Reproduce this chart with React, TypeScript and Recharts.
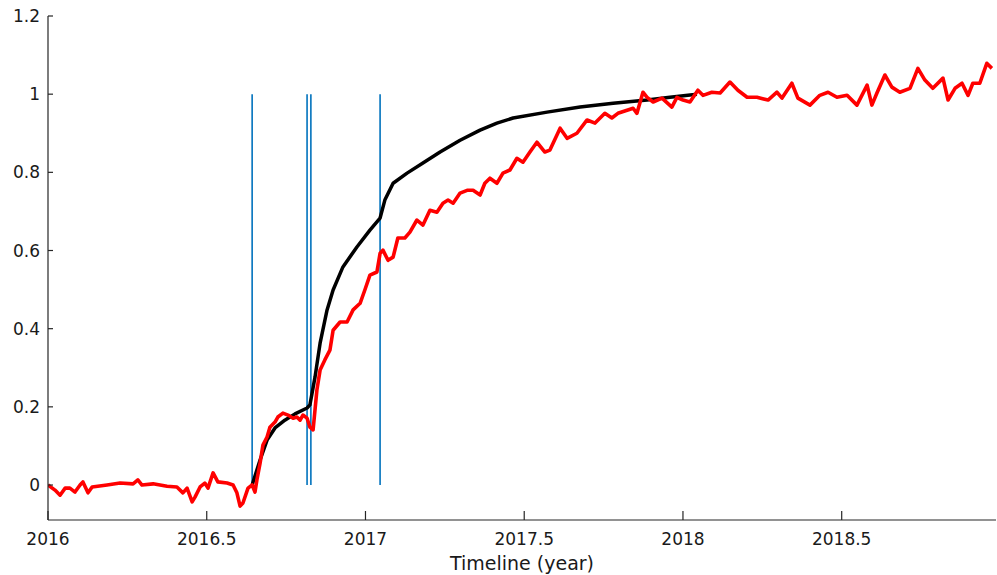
import React from 'react';
import { LineChart, Line, XAxis, YAxis, ReferenceLine } from 'recharts';

// ---- data ----
const xTicks = [2016, 2016.5, 2017, 2017.5, 2018, 2018.5];
const yTicks = [0, 0.2, 0.4, 0.6, 0.8, 1, 1.2];
const xDomain = [2016, 2018.986];
const yDomain = [-0.0895, 1.2];

// event markers (vertical lines from 0 to 1)
const eventYears = [2016.643, 2016.816, 2016.828, 2017.046];

// model curve (black)
const modelYears = [
  2016.643, 2016.668, 2016.69, 2016.715, 2016.746, 2016.778, 2016.816, 2016.825, 2016.841,
  2016.857, 2016.879, 2016.898, 2016.929, 2016.973, 2017.014, 2017.046, 2017.061, 2017.087,
  2017.131, 2017.181, 2017.235, 2017.298, 2017.361, 2017.414, 2017.465, 2017.572, 2017.676,
  2017.78, 2017.887, 2017.959, 2018.044,
];
const modelValues = [
  0, 0.064, 0.115, 0.146, 0.166, 0.182, 0.197, 0.205, 0.276,
  0.363, 0.448, 0.499, 0.558, 0.609, 0.652, 0.683, 0.729, 0.772,
  0.798, 0.824, 0.852, 0.882, 0.908, 0.926, 0.939, 0.954, 0.967,
  0.977, 0.985, 0.992, 1.0,
];

// observed series (red)
const obsYears = [
  2016.0, 2016.022, 2016.038, 2016.054, 2016.069, 2016.085, 2016.101, 2016.11, 2016.126, 2016.139,
  2016.186, 2016.227, 2016.268, 2016.283, 2016.296, 2016.331, 2016.375, 2016.406, 2016.425, 2016.438,
  2016.454, 2016.463, 2016.479, 2016.494, 2016.504, 2016.52, 2016.535, 2016.564, 2016.583, 2016.595,
  2016.605, 2016.614, 2016.63, 2016.643, 2016.652, 2016.658, 2016.668, 2016.677, 2016.69, 2016.699,
  2016.715, 2016.724, 2016.74, 2016.756, 2016.772, 2016.784, 2016.794, 2016.803, 2016.816, 2016.825,
  2016.835, 2016.847, 2016.857, 2016.872, 2016.888, 2016.898, 2016.92, 2016.942, 2016.961, 2016.983,
  2016.998, 2017.014, 2017.036, 2017.046, 2017.055, 2017.071, 2017.087, 2017.102, 2017.124, 2017.14,
  2017.162, 2017.181, 2017.203, 2017.225, 2017.244, 2017.26, 2017.276, 2017.298, 2017.32, 2017.339,
  2017.361, 2017.376, 2017.392, 2017.414, 2017.433, 2017.455, 2017.477, 2017.496, 2017.518, 2017.54,
  2017.565, 2017.581, 2017.613, 2017.635, 2017.666, 2017.698, 2017.723, 2017.754, 2017.776, 2017.795,
  2017.824, 2017.843, 2017.855, 2017.874, 2017.887, 2017.906, 2017.934, 2017.965, 2017.981, 2018.0,
  2018.022, 2018.047, 2018.063, 2018.091, 2018.117, 2018.148, 2018.173, 2018.202, 2018.233, 2018.268,
  2018.296, 2018.312, 2018.343, 2018.362, 2018.4, 2018.431, 2018.457, 2018.485, 2018.517, 2018.548,
  2018.58, 2018.595, 2018.611, 2018.636, 2018.658, 2018.683, 2018.715, 2018.74, 2018.762, 2018.787,
  2018.819, 2018.835, 2018.857, 2018.879, 2018.898, 2018.913, 2018.935, 2018.957, 2018.973,
];
const obsValues = [
  0, -0.013, -0.026, -0.008, -0.008, -0.018, 0, 0.008, -0.02, -0.005,
  0, 0.005, 0.003, 0.013, 0, 0.003, -0.003, -0.005, -0.02, -0.008,
  -0.043, -0.031, -0.005, 0.005, -0.008, 0.031, 0.008, 0.005, 0, -0.02,
  -0.054, -0.046, -0.008, 0, -0.018, 0.013, 0.056, 0.102, 0.123, 0.148,
  0.161, 0.174, 0.184, 0.179, 0.171, 0.174, 0.166, 0.179, 0.171, 0.148,
  0.141, 0.243, 0.294, 0.32, 0.345, 0.396, 0.417, 0.417, 0.448, 0.465,
  0.499, 0.537, 0.545, 0.593, 0.601, 0.575, 0.583, 0.632, 0.632, 0.647,
  0.678, 0.665, 0.703, 0.698, 0.721, 0.729, 0.721, 0.747, 0.754, 0.754,
  0.742, 0.772, 0.785, 0.772, 0.798, 0.806, 0.836, 0.826, 0.852, 0.877,
  0.852, 0.857, 0.913, 0.887, 0.9, 0.934, 0.926, 0.951, 0.939, 0.951,
  0.959, 0.964, 0.951, 1.005, 0.992, 0.98, 0.99, 0.967, 0.992, 0.985,
  0.98, 1.01, 0.997, 1.005, 1.003, 1.031, 1.01, 0.992, 0.992, 0.985,
  1.005, 0.99, 1.028, 0.99, 0.972, 0.997, 1.005, 0.992, 0.997, 0.972,
  1.023, 0.972, 1.003, 1.049, 1.018, 1.005, 1.015, 1.066, 1.036, 1.015,
  1.041, 0.985, 1.015, 1.028, 0.997, 1.028, 1.028, 1.079, 1.066,
];

const modelData = modelYears.map((t, i) => ({ t, v: modelValues[i] }));
const obsData = obsYears.map((t, i) => ({ t, v: obsValues[i] }));

// ---- styles ----
const AXIS = '#262626';
const TEXT = '#1a1a1a';
const FONT = '"DejaVu Sans", sans-serif';
const X_MARGIN = 2;
const Y_MARGIN = 2;

const XTick = (props: any) => {
  const { x, y, payload } = props;
  const axisY = y - X_MARGIN;
  return (
    <g>
      <line x1={x} x2={x} y1={axisY} y2={axisY - 9} stroke={AXIS} strokeWidth={1.2} />
      <text x={x} y={axisY + 25} textAnchor="middle" fontSize={17} fill={TEXT} fontFamily={FONT}>
        {String(payload.value)}
      </text>
    </g>
  );
};

const YTick = (props: any) => {
  const { x, y, payload } = props;
  const axisX = x + Y_MARGIN;
  return (
    <g>
      <line x1={axisX} x2={axisX + 5} y1={y} y2={y} stroke={AXIS} strokeWidth={1.2} />
      <text x={axisX - 8} y={y} dy="0.36em" textAnchor="end" fontSize={17} fill={TEXT} fontFamily={FONT}>
        {String(payload.value)}
      </text>
    </g>
  );
};

const XLabel = (props: any) => {
  const vb = props.viewBox || { x: 48, y: 520, width: 948 };
  return (
    <text x={vb.x + vb.width / 2} y={vb.y + 50} textAnchor="middle" fontSize={19} fill={TEXT} fontFamily={FONT}>
      Timeline (year)
    </text>
  );
};

export default function App() {
  return (
    <div style={{ position: 'absolute', left: 0, top: 0, width: 997, height: 575, background: '#fff' }}>
      <LineChart width={997} height={575} margin={{ top: 16, right: 1, bottom: 0, left: 0 }}>
        <XAxis
          type="number"
          dataKey="t"
          domain={xDomain}
          allowDataOverflow
          ticks={xTicks}
          interval={0}
          height={55}
          tickSize={0}
          tickMargin={X_MARGIN}
          tickLine={false}
          axisLine={{ stroke: AXIS, strokeWidth: 1.2 }}
          tick={XTick}
          label={XLabel}
        />
        <YAxis
          type="number"
          domain={yDomain}
          allowDataOverflow
          ticks={yTicks}
          interval={0}
          width={48}
          tickSize={0}
          tickMargin={Y_MARGIN}
          tickLine={false}
          axisLine={{ stroke: AXIS, strokeWidth: 1.2 }}
          tick={YTick}
        />
        {eventYears.map((yr) => (
          <ReferenceLine
            key={yr}
            segment={[{ x: yr, y: 0 }, { x: yr, y: 1 }]}
            stroke="#0072BD"
            strokeWidth={1.6}
          />
        ))}
        <Line
          data={modelData}
          dataKey="v"
          type="linear"
          stroke="#000000"
          strokeWidth={3.5}
          strokeLinejoin="round"
          dot={false}
          activeDot={false}
          isAnimationActive={false}
        />
        <Line
          data={obsData}
          dataKey="v"
          type="linear"
          stroke="#ff0000"
          strokeWidth={3.6}
          strokeLinejoin="round"
          dot={false}
          activeDot={false}
          isAnimationActive={false}
        />
      </LineChart>
    </div>
  );
}
